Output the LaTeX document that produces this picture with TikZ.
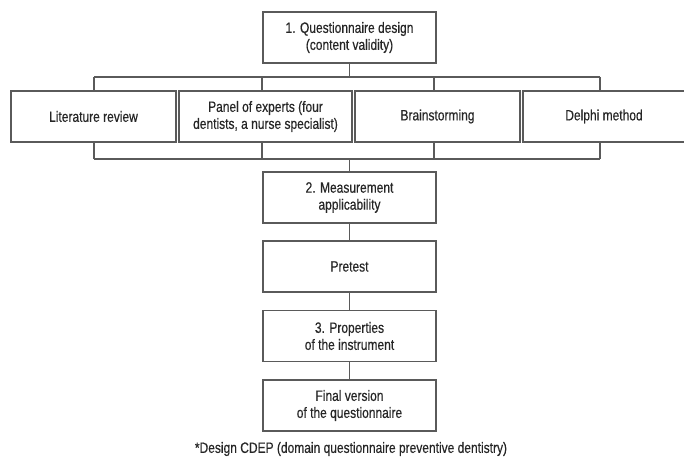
\documentclass[tikz,border=0pt]{standalone}
\usepackage{fontspec}
\setmainfont{Liberation Sans}[FakeStretch=0.8,FakeBold=0.4]
\definecolor{linec}{HTML}{5A5A5A}
\definecolor{textc}{HTML}{262626}
\tikzset{
  box/.style={draw=linec, line width=1.1pt, fill=white, text=textc, inner sep=0pt, align=center,
    font=\fontsize{15}{17}\selectfont},
  conn/.style={draw=linec, line width=1.1pt}
}
\begin{document}
\begin{tikzpicture}[x=1pt,y=-1pt]
\useasboundingbox (0,0) rectangle (684,457);
\clip (0,0) rectangle (684,457);
\fill[white] (0,0) rectangle (684,457);
% main chain
\node[box, minimum width=173pt, minimum height=51pt] (q1) at (349.5,37.5) {1. Questionnaire design\\(content validity)};
\node[box, minimum width=173pt, minimum height=51pt] (q2) at (349.5,197.5) {2. Measurement\\applicability};
\node[box, minimum width=173pt, minimum height=51pt] (pre) at (349.5,266.5) {Pretest};
\node[box, minimum width=173pt, minimum height=51pt] (q3) at (349.5,336) {3. Properties\\of the instrument};
\node[box, minimum width=173pt, minimum height=51pt] (fin) at (349.5,405.5) {Final version\\of the questionnaire};
% row
\node[box, minimum width=165pt, minimum height=51pt] (lit) at (93.5,116.5) {Literature review};
\node[box, minimum width=173pt, minimum height=51pt] (pan) at (265.5,116.5) {Panel of experts (four\\dentists, a nurse specialist)};
\node[box, minimum width=165pt, minimum height=51pt] (bra) at (437.5,116.5) {Brainstorming};
\node[box, minimum width=162pt, minimum height=51pt] (del) at (604,116.5) {Delphi method};
% bus coordinates
\coordinate (t0) at (349.5,77);
\coordinate (t1) at (94,77);
\coordinate (t2) at (262,77);
\coordinate (t3) at (434,77);
\coordinate (t4) at (600,77);
\coordinate (b0) at (349.5,159);
\coordinate (b1) at (94,159);
\coordinate (b2) at (262,159);
\coordinate (b3) at (434,159);
\coordinate (b4) at (600,159);
\draw[conn] (q1.south) -- (t0);
\draw[conn] (t1) -- (t4);
\draw[conn] (t1) -- (t1 |- lit.north);
\draw[conn] (t2) -- (t2 |- pan.north);
\draw[conn] (t3) -- (t3 |- bra.north);
\draw[conn] (t4) -- (t4 |- del.north);
\draw[conn] (b1) -- (b4);
\draw[conn] (b1) -- (b1 |- lit.south);
\draw[conn] (b2) -- (b2 |- pan.south);
\draw[conn] (b3) -- (b3 |- bra.south);
\draw[conn] (b4) -- (b4 |- del.south);
\draw[conn] (b0) -- (q2.north);
\draw[conn] (q2.south) -- (pre.north);
\draw[conn] (pre.south) -- (q3.north);
\draw[conn] (q3.south) -- (fin.north);
\node[text=textc, inner sep=0pt, font=\fontsize{15}{17}\selectfont] (note) at (351,449) {*Design CDEP (domain questionnaire preventive dentistry)};
\end{tikzpicture}
\end{document}
